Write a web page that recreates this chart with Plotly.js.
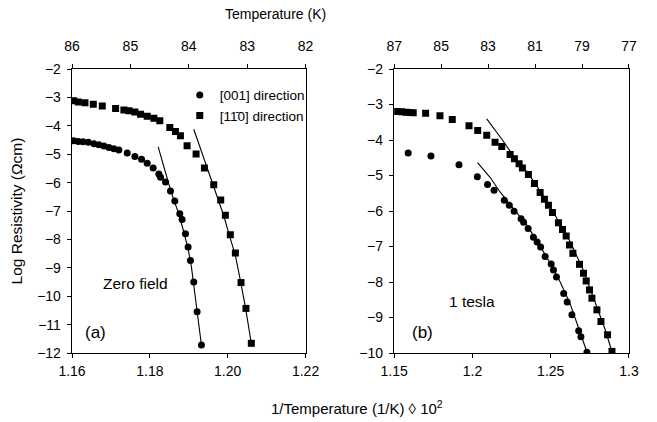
<!DOCTYPE html>
<html>
<head>
<meta charset="utf-8">
<script src="https://cdn.plot.ly/plotly-3.0.1.min.js"></script>
<style>html,body{margin:0;padding:0;background:#fff}#chart{width:657px;height:422px}</style>
</head>
<body>
<div id="chart"></div>
<script>
// ---- Panel (a): Zero field ----
var a001X = [1.16043,1.16162,1.16282,1.16419,1.16564,1.16692,1.16821,1.16949,1.17077,1.17205,1.17419,1.17615,1.17786,1.17932,1.18085,1.18231,1.18274,1.18402,1.18530,1.18641,1.18769,1.18829,1.18915,1.18983,1.19043,1.19128,1.19214,1.19325];
var a001Y = [-4.53,-4.55,-4.56,-4.58,-4.63,-4.67,-4.71,-4.76,-4.81,-4.85,-4.96,-5.08,-5.18,-5.32,-5.49,-5.70,-5.81,-5.98,-6.30,-6.65,-7.10,-7.30,-7.80,-8.27,-8.74,-9.50,-10.55,-11.72];
var a110X = [1.16043,1.16162,1.16333,1.16547,1.16778,1.17120,1.17333,1.17462,1.17615,1.17761,1.17932,1.18103,1.18256,1.18513,1.18658,1.18786,1.18957,1.19188,1.19402,1.19641,1.19821,1.19940,1.20068,1.20197,1.20342,1.20470,1.20607];
var a110Y = [-3.12,-3.16,-3.19,-3.24,-3.30,-3.39,-3.44,-3.47,-3.51,-3.59,-3.66,-3.73,-3.82,-4.06,-4.20,-4.35,-4.70,-4.99,-5.49,-6.08,-6.61,-7.15,-7.84,-8.48,-9.52,-10.43,-11.66];
var aFit001X = [1.18214,1.18359,1.18487,1.18615,1.18744,1.18872,1.18983,1.19068,1.19137,1.19214,1.19325];
var aFit001Y = [-4.74,-5.46,-6.05,-6.61,-7.10,-7.74,-8.33,-8.97,-9.67,-10.55,-11.72];
var aFit110X = [1.19128,1.19274,1.19427,1.19598,1.19752,1.19897,1.20043,1.20197,1.20325,1.20453,1.20607];
var aFit110Y = [-4.12,-4.70,-5.35,-6.05,-6.63,-7.16,-7.86,-8.56,-9.44,-10.37,-11.66];

// ---- Panel (b): 1 tesla ----
var b001X = [1.15896,1.17349,1.19140,1.20311,1.20964,1.21380,1.22033,1.22353,1.22660,1.23108,1.23268,1.23556,1.23895,1.24132,1.24356,1.24644,1.25028,1.25175,1.25367,1.25828,1.26051,1.26352,1.26787,1.26928,1.27312];
var b001Y = [-4.369,-4.453,-4.695,-5.037,-5.256,-5.416,-5.697,-5.837,-6.006,-6.216,-6.314,-6.491,-6.736,-6.876,-7.016,-7.283,-7.493,-7.662,-7.858,-8.321,-8.560,-8.925,-9.374,-9.542,-9.978];
var b110X = [1.15192,1.15474,1.15749,1.16005,1.16216,1.17009,1.17924,1.18712,1.19780,1.20337,1.20913,1.21444,1.21873,1.22404,1.22679,1.22980,1.23191,1.23575,1.23959,1.24324,1.24599,1.24855,1.25111,1.25495,1.25751,1.25987,1.26198,1.26416,1.26838,1.27094,1.27267,1.27478,1.27632,1.27952,1.28208,1.28630,1.28912];
var b110Y = [-3.199,-3.207,-3.218,-3.227,-3.235,-3.246,-3.319,-3.423,-3.600,-3.732,-3.864,-4.060,-4.181,-4.406,-4.526,-4.667,-4.790,-4.975,-5.228,-5.481,-5.669,-5.837,-6.042,-6.334,-6.519,-6.707,-6.960,-7.193,-7.502,-7.754,-7.971,-8.223,-8.456,-8.785,-9.113,-9.487,-9.955];
var bFit001X = [1.20324,1.21124,1.21764,1.22615,1.23473,1.24215,1.24964,1.25604,1.26244,1.26884,1.27332];
var bFit001Y = [-4.639,-5.051,-5.464,-5.930,-6.399,-6.912,-7.465,-7.999,-8.616,-9.430,-9.992];
var bFit110X = [1.20913,1.21937,1.22679,1.23575,1.24855,1.26244,1.27075,1.27843,1.28483,1.28931];
var bFit110Y = [-3.404,-4.013,-4.490,-4.947,-5.789,-6.867,-7.662,-8.560,-9.346,-9.992];

// ---- Tick labels ----
var aBottomTicks = [1.16,1.18,1.20,1.22];
var bBottomTicks = [1.15,1.2,1.25,1.3];
var aTopTicks = [86,85,84,83,82];
var bTopTicks = [87,85,83,81,79,77];
var legendNames = ["[001] direction", "[11\u03040] direction"];

var FONT = "Liberation Sans, Arial, Helvetica, sans-serif";
var mk = function(sym){ return {symbol: sym, size: 7, color: "#000"}; };

var traces = [
  {x: aFit001X, y: aFit001Y, xaxis: "x", yaxis: "y", mode: "lines", line: {color: "#000", width: 1.1}, showlegend: false},
  {x: aFit110X, y: aFit110Y, xaxis: "x", yaxis: "y", mode: "lines", line: {color: "#000", width: 1.1}, showlegend: false},
  {x: a001X, y: a001Y, xaxis: "x", yaxis: "y", mode: "markers", marker: mk("circle"), name: legendNames[0]},
  {x: a110X, y: a110Y, xaxis: "x", yaxis: "y", mode: "markers", marker: mk("square"), name: legendNames[1]},
  {x: bFit001X, y: bFit001Y, xaxis: "x3", yaxis: "y2", mode: "lines", line: {color: "#000", width: 1.1}, showlegend: false},
  {x: bFit110X, y: bFit110Y, xaxis: "x3", yaxis: "y2", mode: "lines", line: {color: "#000", width: 1.1}, showlegend: false},
  {x: b001X, y: b001Y, xaxis: "x3", yaxis: "y2", mode: "markers", marker: mk("circle"), showlegend: false},
  {x: b110X, y: b110Y, xaxis: "x3", yaxis: "y2", mode: "markers", marker: mk("square"), showlegend: false},
  {x: [], y: [], xaxis: "x2", yaxis: "y", mode: "markers", showlegend: false},
  {x: [], y: [], xaxis: "x4", yaxis: "y2", mode: "markers", showlegend: false}
];

var axBase = {
  showline: true, linecolor: "#000", linewidth: 1.3, showgrid: false, zeroline: false,
  ticks: "outside", ticklen: 4, tickwidth: 1, tickcolor: "#000",
  tickfont: {family: FONT, size: 14, color: "#000"}, fixedrange: true
};
function ax(o){ return Object.assign({}, axBase, o); }

var L0 = 72.3, W = 556.7, B = 353.3, H = 285;
function px(x){ return (x - L0) / W; }
function py(y){ return (B - y) / H; }

var layout = {
  width: 657, height: 422,
  margin: {l: 72.3, r: 28, t: 68.7, b: 68.7},
  paper_bgcolor: "#fff", plot_bgcolor: "#fff",
  font: {family: FONT, size: 14, color: "#000"},
  showlegend: true,
  legend: {x: px(180), y: py(79), xanchor: "left", yanchor: "top", bgcolor: "rgba(0,0,0,0)",
           font: {family: FONT, size: 13.5, color: "#000"}, tracegroupgap: 0, itemwidth: 30},
  xaxis: ax({domain: [0, 0.4193], range: [1.16, 1.22], tickvals: aBottomTicks, tickformat: ".2f", anchor: "y", ticklabelstandoff: 1}),
  yaxis: ax({domain: [0, 1], range: [-12, -2], dtick: 1, anchor: "x", mirror: true, ticklabelstandoff: 3,
             title: {text: "Log Resistivity (\u03A9cm)", font: {family: FONT, size: 15.5}, standoff: 10}}),
  xaxis2: ax({overlaying: "x", side: "top", range: [86, 82], tickvals: aTopTicks, anchor: "y", ticklabelstandoff: 7}),
  xaxis3: ax({domain: [0.5784, 1], range: [1.15, 1.3], tickvals: bBottomTicks, anchor: "y2", ticklabelstandoff: 1}),
  yaxis2: ax({domain: [0, 1], range: [-10, -2], dtick: 1, anchor: "x3", mirror: true, ticklabelstandoff: 3}),
  xaxis4: ax({overlaying: "x3", side: "top", range: [87, 77], tickvals: bTopTicks, anchor: "y2", ticklabelstandoff: 7}),
  annotations: [
    {text: "Temperature (K)", xref: "paper", yref: "paper", x: px(276), y: py(13), showarrow: false, xanchor: "center", yanchor: "middle", font: {family: FONT, size: 14}},
    {text: "1/Temperature (1/K) \u25CA 10<sup>2</sup>", xref: "paper", yref: "paper", x: px(356.7), y: py(408), showarrow: false, xanchor: "center", yanchor: "middle", font: {family: FONT, size: 15}},
    {text: "Zero field", xref: "paper", yref: "paper", x: px(101.7), y: py(284), showarrow: false, xanchor: "left", yanchor: "middle", font: {family: FONT, size: 15.5}},
    {text: "(a)", xref: "paper", yref: "paper", x: px(83), y: py(333), showarrow: false, xanchor: "left", yanchor: "middle", font: {family: FONT, size: 17}},
    {text: "1 tesla", xref: "paper", yref: "paper", x: px(447), y: py(302), showarrow: false, xanchor: "left", yanchor: "middle", font: {family: FONT, size: 15.5}},
    {text: "(b)", xref: "paper", yref: "paper", x: px(410), y: py(333), showarrow: false, xanchor: "left", yanchor: "middle", font: {family: FONT, size: 17}}
  ]
};

Plotly.newPlot("chart", traces, layout, {staticPlot: true, displayModeBar: false});
</script>
</body>
</html>
